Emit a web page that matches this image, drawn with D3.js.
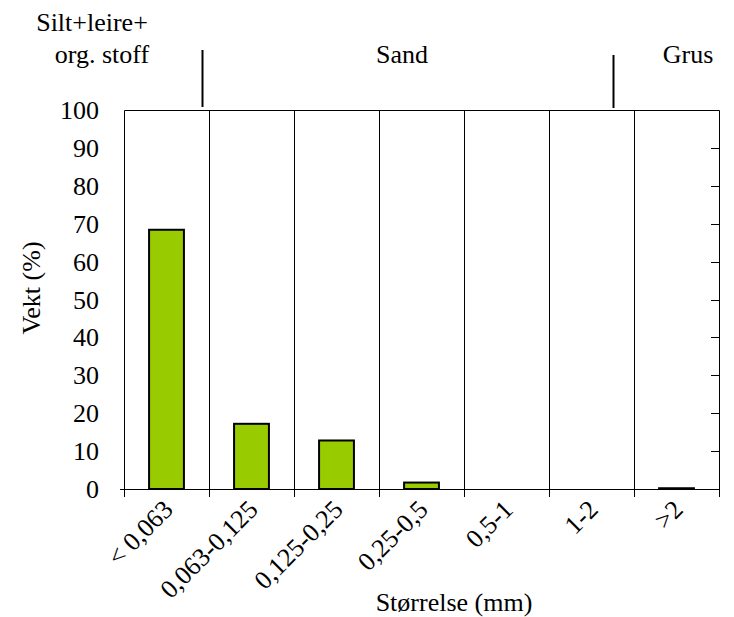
<!DOCTYPE html>
<html>
<head>
<meta charset="utf-8">
<script src="https://cdn.jsdelivr.net/npm/d3@7"></script>
</head>
<body style="margin:0">
<script>
var categories = ["< 0,063", "0,063-0,125", "0,125-0,25", "0,25-0,5", "0,5-1", "1-2", ">2"];
var values = [68.4, 17.2, 12.8, 1.7, 0, 0, 0.2];
var yTicks = [0, 10, 20, 30, 40, 50, 60, 70, 80, 90, 100];
var fractionLabels = ["Silt+leire+", "org. stoff", "Sand", "Grus"];

var width = 734,
    height = 617;

var plot = {
    left: 124,
    right: 719,
    top: 110,
    bottom: 489
};

var svg = d3.select("body").append("svg")
    .attr("width", width)
    .attr("height", height)
    .attr("font-family", "Liberation Serif")
    .attr("font-size", 26);

var x = d3.scaleBand()
    .domain(categories)
    .range([plot.left, plot.right]);

var y = d3.scaleLinear()
    .domain([0, 100])
    .range([plot.bottom, plot.top]);

var barWidth = x.bandwidth() * 0.41;

function serifText(sel) {
    sel.attr("font-family", "Liberation Serif")
        .style("font-family", "'Liberation Serif'")
        .style("font-size", "26px");
}

// vertical separators between the size classes
svg.append("g").selectAll("line")
    .data(categories.slice(1))
    .enter().append("line")
    .attr("x1", function(d) { return Math.round(x(d)) + 0.5; })
    .attr("x2", function(d) { return Math.round(x(d)) + 0.5; })
    .attr("y1", plot.top)
    .attr("y2", plot.bottom + 8)
    .attr("stroke", "#000");

// frame: top, left, right
svg.append("path")
    .attr("d", "M" + (plot.left + 0.5) + "," + (plot.bottom + 8) +
        "V" + (plot.top + 0.5) + "H" + (plot.right + 0.5) + "V" + (plot.bottom + 8))
    .attr("fill", "none")
    .attr("stroke", "#000");

// right axis with inward ticks
svg.append("g").selectAll("line")
    .data(yTicks)
    .enter().append("line")
    .attr("x1", plot.right - 8)
    .attr("x2", plot.right)
    .attr("y1", function(d) { return Math.round(y(d)) + 0.5; })
    .attr("y2", function(d) { return Math.round(y(d)) + 0.5; })
    .attr("stroke", "#000");

// left tick labels
svg.selectAll("text.ytick")
    .data(yTicks)
    .enter().append("text")
    .attr("class", "ytick")
    .attr("x", 99)
    .attr("y", function(d) { return y(d) + 9; })
    .attr("text-anchor", "end")
    .call(serifText)
    .text(function(d) { return d; });

// bars
svg.append("g").selectAll("rect")
    .data(values)
    .enter().append("rect")
    .attr("x", function(d, i) { return x(categories[i]) + (x.bandwidth() - barWidth) / 2; })
    .attr("y", function(d) { return y(d); })
    .attr("width", barWidth)
    .attr("height", function(d) { return y(0) - y(d); })
    .attr("fill", "#99cc00")
    .attr("stroke", "#000")
    .attr("stroke-width", 2);

// x axis line
svg.append("line")
    .attr("x1", plot.left - 4)
    .attr("x2", plot.right)
    .attr("y1", plot.bottom + 0.5)
    .attr("y2", plot.bottom + 0.5)
    .attr("stroke", "#000");

// x tick labels
svg.selectAll("text.xtick")
    .data(categories)
    .enter().append("text")
    .attr("class", "xtick")
    .attr("text-anchor", "end")
    .attr("transform", function(d) {
        var cx = x(d) + x.bandwidth() / 2 + 8;
        return "translate(" + cx + "," + (plot.bottom + 22) + ") rotate(-45)";
    })
    .call(serifText)
    .text(function(d) { return d; });

// axis titles
svg.append("text")
    .attr("transform", "translate(40,288) rotate(-90)")
    .attr("text-anchor", "middle")
    .call(serifText)
    .text("Vekt (%)");

svg.append("text")
    .attr("x", 454)
    .attr("y", 611)
    .attr("text-anchor", "middle")
    .call(serifText)
    .text("Størrelse (mm)");

// fraction labels on top
var fractionPos = [[92, 31], [102, 63], [402, 63], [688, 63]];

svg.selectAll("text.fraction")
    .data(fractionLabels)
    .enter().append("text")
    .attr("class", "fraction")
    .attr("x", function(d, i) { return fractionPos[i][0]; })
    .attr("y", function(d, i) { return fractionPos[i][1]; })
    .attr("text-anchor", "middle")
    .call(serifText)
    .text(function(d) { return d; });

// divider marks between fractions
svg.append("line").attr("x1", 202.5).attr("x2", 202.5).attr("y1", 50).attr("y2", 107)
    .attr("stroke", "#000").attr("stroke-width", 2);
svg.append("line").attr("x1", 613.5).attr("x2", 613.5).attr("y1", 55).attr("y2", 108)
    .attr("stroke", "#000").attr("stroke-width", 2);
</script>
</body>
</html>
